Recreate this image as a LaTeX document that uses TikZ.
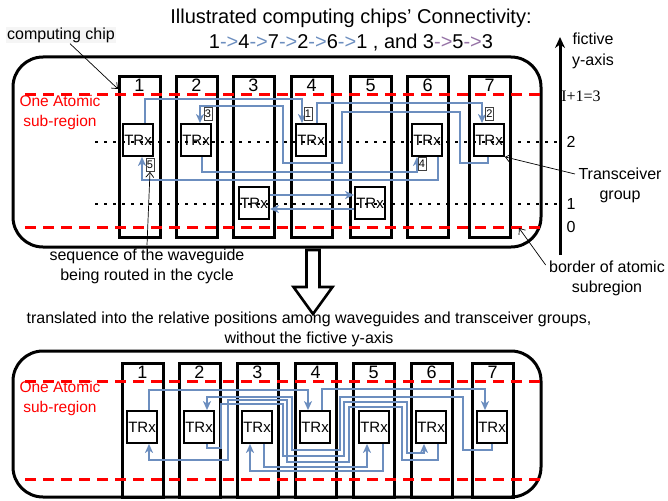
\documentclass[tikz,border=0pt]{standalone}
\usepackage{fontspec}
\setmainfont{Liberation Sans}
\newfontfamily\tnr{Liberation Serif}
\usetikzlibrary{arrows.meta}
\definecolor{rblue}{HTML}{6C8EBF}
\definecolor{rpurple}{HTML}{9673A6}
\tikzset{
 chip/.style={draw, line width=3pt, minimum width=41pt, inner sep=0pt},
 trx/.style={draw, fill=white, line width=1.8pt, minimum width=30pt, minimum height=32pt, inner sep=0pt, font=\fontsize{15}{18}\selectfont},
 route/.style={draw=rblue, line width=1.6pt, -{Stealth[length=9pt,width=8pt,inset=2.5pt]}},
 tag/.style={draw=black!75, fill=white, line width=0.7pt, inner sep=0pt, minimum width=8pt, minimum height=13pt, font=\fontsize{11}{12}\selectfont},
 redline/.style={red, line width=3pt, dash pattern=on 11pt off 7pt},
 dotline/.style={line width=2.8pt, dash pattern=on 2.8pt off 6.2pt},
 note/.style={font=\fontsize{16}{20}\selectfont, align=center},
 pointer/.style={line width=0.7pt, -{Straight Barb[length=5pt,width=8pt]}},
 num/.style={font=\fontsize{18}{20}\selectfont},
}
\begin{document}
\begin{tikzpicture}[x=1pt,y=-1pt]
\useasboundingbox (0,0) rectangle (668,500);

% ---------- titles ----------
\node[font=\fontsize{20}{25.5}\selectfont, align=center] (title) at (351,30)
 {Illustrated computing chips' Connectivity:\\
 1\textcolor{rblue}{->}4\textcolor{rblue}{->}7\textcolor{rblue}{->}2\textcolor{rblue}{->}6\textcolor{rblue}{->}1 , and 3\textcolor{rpurple}{->}5\textcolor{rpurple}{->}3};

% ================= TOP DIAGRAM =================
\draw[line width=3pt, rounded corners=30pt] (13,57) rectangle (541,247);

\foreach \i/\x in {1/139.5,2/196.5,3/253.5,4/311.5,5/370.5,6/427.5,7/489.5}{
  \node[chip, minimum height=160pt] (c\i) at (\x,157) {};
  \node[num] (n\i) at (\x,85) {\i};
}
\draw[redline] (25,95) -- (541,95);
\draw[redline] (25,227) -- (541,227);

\node[note, text=red, font=\fontsize{15.5}{20}\selectfont] (lat) at (60,112) {One Atomic\\sub-region};

% transceivers
\node[trx] (t1) at (138,140) {TRx};
\node[trx] (t2) at (196,140) {TRx};
\node[trx] (t3) at (254,203) {TRx};
\node[trx] (t4) at (311,140) {TRx};
\node[trx] (t5) at (370,203) {TRx};
\node[trx] (t6) at (427,140) {TRx};
\node[trx] (t7) at (489,140) {TRx};

% routes
\draw[route] ([xshift=7pt]t1.north) |- (302,99) -- ([xshift=-9pt]t4.north);
\draw[route] ([xshift=6pt]t4.north) |- (482,103) -- ([xshift=-7pt]t7.north);
\draw[route] ([xshift=-1pt]t7.south) |- (460,163) |- (342,112) |- (283,163) |- (200,106) -- ([xshift=4pt]t2.north);
\draw[route] ([xshift=6pt]t2.south) |- (417,172) -- ([xshift=-10pt]t6.south);
\draw[route] ([xshift=11pt]t6.south) |- (142,180) -- ([xshift=4pt]t1.south);
\draw[route] ([yshift=8pt]t3.east) -- ([yshift=8pt]t5.west);
\draw[route] ([yshift=-6pt]t5.west) -- ([yshift=-6pt]t3.east);

% tags
\node[tag] (g1) at (308,114) {1};
\node[tag] (g2) at (489.5,114) {2};
\node[tag] (g3) at (208,114) {3};
\node[tag] (g4) at (422,164) {4};
\node[tag] (g5) at (150,165) {5};

% fictive levels
\draw[dotline] (95,142) -- (558,142);
\draw[dotline] (95,204) -- (558,204);

% y-axis
\coordinate (ya0) at (560,255);
\coordinate (ya1) at (560,37);
\draw[line width=3pt, -{Stealth[length=11pt,width=10pt]}] (ya0) -- (ya1);
\node[note, font=\fontsize{16}{21}\selectfont] (lfy) at (593,51) {fictive\\y-axis};
\node[font=\tnr\fontsize{16}{19}\selectfont] (li) at (581,96) {I+1=3};
\node[note] (l2) at (571,142) {2};
\node[note] (l1) at (571,204) {1};
\node[note] (l0) at (571,227) {0};

% annotations
\node[note, fill=black!4, inner sep=1pt] (lcc) at (61,35) {computing chip};
\coordinate (cc1) at (118,89);
\draw[pointer] ([xshift=9pt]lcc.south) -- (cc1);

\node[note] (lseq) at (147,266) {sequence of the waveguide\\being routed in the cycle};
\draw[pointer] (lseq.north) -- (g5.south);

\node[note] (ltg) at (620,185) {Transceiver\\group};
\draw[pointer] ([yshift=11pt]ltg.west) -- (t7.south east);

\node[note] (lbd) at (607,278) {border of atomic\\subregion};
\coordinate (bd) at (519,228);
\draw[pointer] ([yshift=-8pt]lbd.north west) -- (bd);

% ---------- big hollow arrow ----------
\draw[line width=2.6pt, fill=white, line join=miter] (306.5,250) -- (319.5,250) -- (319.5,287) -- (332.5,287) -- (313,314) -- (293.5,287) -- (306.5,287) -- cycle;

\node[note] (ltr) at (309,329) {translated into the relative positions among waveguides and transceiver groups,\\without the fictive y-axis};

% ================= BOTTOM DIAGRAM =================
\begin{scope}
\clip (0,0) rectangle (668,500);
\draw[line width=3pt, rounded corners=30pt] (13,351) rectangle (541,497);
\foreach \i/\x in {1/142.5,2/199.5,3/257.5,4/315.5,5/373.5,6/431.5,7/492.5}{
  \node[chip, minimum height=134pt] (d\i) at (\x,430) {};
  \node[num] (m\i) at (\x,372) {\i};
}
\end{scope}
\draw[redline] (25,381) -- (541,381);
\draw[redline] (25,479) -- (541,479);
\node[note, text=red, font=\fontsize{15.5}{20}\selectfont] (lat2) at (60,398) {One Atomic\\sub-region};

\node[trx] (b1) at (142,427) {TRx};
\node[trx] (b2) at (199,427) {TRx};
\node[trx] (b3) at (257,427) {TRx};
\node[trx] (b4) at (315,427) {TRx};
\node[trx] (b5) at (374,427) {TRx};
\node[trx] (b6) at (431,427) {TRx};
\node[trx] (b7) at (492,427) {TRx};

\draw[route] ([xshift=7pt]b1.north) |- (308,390) -- ([xshift=-7pt]b4.north);
\draw[route] ([xshift=7pt]b4.north) |- (485,389) -- ([xshift=-7pt]b7.north);
\draw[route] (b7.south) |- (463,450) |- (340,397) |- (292,450) |- (207,397) -- ([xshift=8pt]b2.north);
\draw[route] ([xshift=8pt]b2.south) |- (221,448) |- (283,404) |- (344,456) |- (407,402) |- (424,453) -- ([xshift=-7pt]b6.south);
\draw[route] ([xshift=7pt]b6.south) |- (402,460) |- (349,407) |- (287,462) |- (228,400) |- (149,460) -- ([xshift=7pt]b1.south);
\draw[route] ([xshift=7pt]b3.south) |- (367,467) -- ([xshift=-7pt]b5.south);
\draw[route] ([xshift=9pt]b5.south) |- (250,471) -- ([xshift=-7pt]b3.south);
\end{tikzpicture}
\end{document}
